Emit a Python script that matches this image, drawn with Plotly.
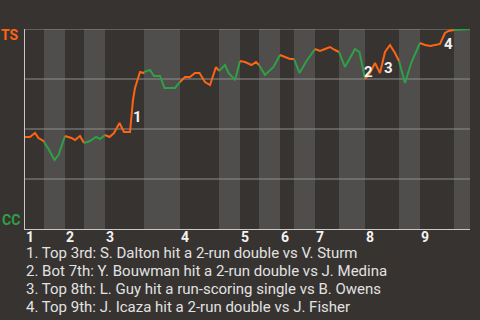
import plotly.graph_objects as go

# play index (x) and TS win probability (p)
plays = [0, 1, 2, 2.7, 3.7, 3.8, 4.7, 5.9, 6.7, 8, 9.3, 10, 11, 11.8, 13, 14.2, 15, 16,
         16.9, 17.8, 18.9, 19.8, 21, 21.6, 22, 23, 23.7, 23.8, 25, 25.8, 27, 27.9, 29, 30, 31,
         32, 33, 34, 34.9, 36, 37, 38.2, 38.8, 40, 40.7, 42, 43, 44, 45.3, 46.2, 46.8,
         48, 49.7, 51, 52, 53, 53.8, 54.9, 56.3, 58, 59, 60, 61, 62, 62.8, 64, 66, 66.9, 68,
         69, 70, 71, 72, 73, 74, 74.8, 76, 77.3, 79, 80, 81.1, 83, 84, 84.7, 85.8, 89]
prob = [0.46, 0.46, 0.48, 0.455, 0.44, 0.435, 0.40, 0.345, 0.37, 0.465, 0.455, 0.445, 0.465, 0.43,
        0.44, 0.46, 0.45, 0.47, 0.46, 0.48, 0.53, 0.485, 0.485, 0.645, 0.705, 0.785, 0.78, 0.785,
        0.795, 0.765, 0.765, 0.705, 0.705, 0.705, 0.735, 0.76, 0.76, 0.78, 0.78, 0.735, 0.72,
        0.81, 0.79, 0.82, 0.78, 0.745, 0.84, 0.835, 0.82, 0.835, 0.82, 0.77, 0.81, 0.87, 0.86,
        0.85, 0.85, 0.78, 0.84, 0.90, 0.89, 0.90, 0.91, 0.895, 0.885, 0.81, 0.90, 0.885, 0.75,
        0.78, 0.83, 0.78, 0.885, 0.92, 0.88, 0.84, 0.73, 0.835, 0.93, 0.92, 0.915, 0.925, 0.98,
        0.99, 0.995, 1.0]

half_starts = [0, 3.8, 8, 11.8, 16, 23.8, 31, 38.8, 43, 46.8, 51, 53.8, 58, 62.8, 68, 74.8, 79, 85.8]
x_end = 89
inning_labels = ["1", "2", "3", "4", "5", "6", "7", "8", "9"]

key_x = [22.4, 68.6, 72.6, 84.6]
key_p = [0.56, 0.785, 0.805, 0.9275]
key_labels = ["1", "2", "3", "4"]
notes = [
    "1. Top 3rd: S. Dalton hit a 2-run double vs V. Sturm",
    "2. Bot 7th: Y. Bouwman hit a 2-run double vs J. Medina",
    "3. Top 8th: L. Guy hit a run-scoring single vs B. Owens",
    "4. Top 9th: J. Icaza hit a 2-run double vs J. Fisher",
]

BG = "#363330"
BAND = "#4f4e4c"
ORANGE = "#ff6414"
GREEN = "#2fa046"
FONT = "Roboto"

fig = go.Figure()
shapes = []
bounds = half_starts + [x_end]
for i in range(len(half_starts)):
    a, b = bounds[i], bounds[i + 1]
    if i % 2 == 1:
        shapes.append(dict(type="rect", xref="x", yref="y", x0=a, x1=b, y0=0, y1=1,
                           fillcolor=BAND, line_width=0, layer="below"))
    xs = [x for x in plays if a <= x <= b]
    ys = [p for x, p in zip(plays, prob) if a <= x <= b]
    fig.add_trace(go.Scatter(x=xs, y=ys, mode="lines",
                             line=dict(color=ORANGE if i % 2 == 0 else GREEN, width=2),
                             hoverinfo="skip", showlegend=False))

for g in [0.25, 0.5, 0.75, 1.0]:
    shapes.append(dict(type="line", xref="x", yref="y", x0=0, x1=x_end, y0=g, y1=g,
                       line=dict(color="#8e8e8c", width=1), layer="below"))

ann = []
for lab, xs in zip(inning_labels, half_starts[::2]):
    ann.append(dict(x=xs, y=-0.04, xref="x", yref="paper", text="<b>%s</b>" % lab,
                    showarrow=False, xanchor="left", yanchor="middle", borderpad=0,
                    font=dict(family=FONT, size=14, color="#f2f2f2")))
for lab, kx, kp in zip(key_labels, key_x, key_p):
    ann.append(dict(x=kx, y=kp, xref="x", yref="y", text="<b>%s</b>" % lab,
                    showarrow=False, xanchor="center", yanchor="middle",
                    font=dict(family=FONT, size=15, color="#f2f2f2")))
ann.append(dict(x=0, y=0.972, xref="paper", yref="paper", text="<b>TS</b>", showarrow=False,
                xanchor="right", yanchor="middle", xshift=-4,
                font=dict(family=FONT, size=14, color=ORANGE)))
ann.append(dict(x=0, y=0.045, xref="paper", yref="paper", text="<b>CC</b>", showarrow=False,
                xanchor="right", yanchor="middle", xshift=-3,
                font=dict(family=FONT, size=14, color=GREEN)))
for k, t in enumerate(notes):
    ann.append(dict(x=0, y=-0.122 - 0.09 * k, xref="paper", yref="paper", text=t,
                    showarrow=False, xanchor="left", yanchor="middle", borderpad=0,
                    font=dict(family=FONT, size=15, color="#e2e2e2")))

fig.update_layout(
    width=480, height=320,
    margin=dict(l=25, r=10, t=29, b=91),
    paper_bgcolor=BG, plot_bgcolor=BG,
    shapes=shapes, annotations=ann,
    xaxis=dict(range=[0, x_end], showgrid=False, zeroline=False, showticklabels=False,
               ticks="", showline=True, linecolor="#c8c8c8", linewidth=1, fixedrange=True),
    yaxis=dict(range=[0, 1], showgrid=False, zeroline=False, showticklabels=False,
               ticks="", showline=True, linecolor="#c8c8c8", linewidth=1, fixedrange=True),
)

fig.write_html("out.html", config={"displayModeBar": False})
